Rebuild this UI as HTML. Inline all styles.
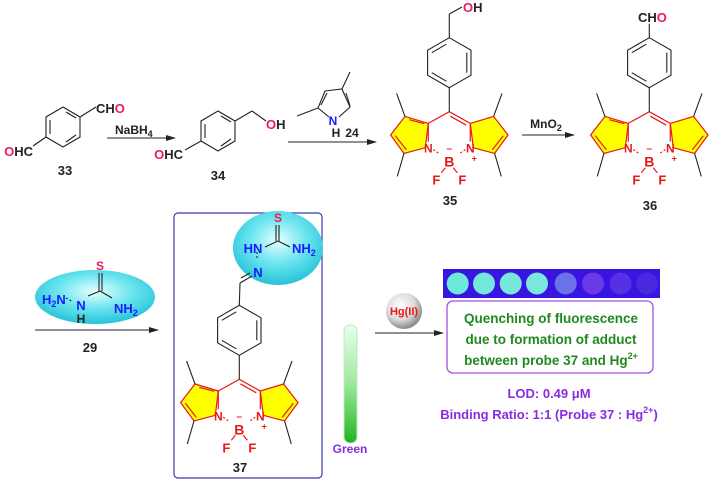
<!DOCTYPE html>
<html><head><meta charset="utf-8"><style>
html,body{margin:0;padding:0;background:#fff;width:711px;height:481px;overflow:hidden}
svg{display:block}
text{font-family:"Liberation Sans",sans-serif;font-weight:bold}
</style></head><body>
<svg width="711" height="481" viewBox="0 0 711 481" xmlns="http://www.w3.org/2000/svg">
<defs>
<radialGradient id="cy" cx="50%" cy="40%" r="60%"><stop offset="0" stop-color="#e8ffff"/><stop offset="0.5" stop-color="#6fe6f0"/><stop offset="1" stop-color="#25c3d8"/></radialGradient>
<radialGradient id="sp" cx="40%" cy="35%" r="65%"><stop offset="0" stop-color="#ffffff"/><stop offset="0.6" stop-color="#dcdcdc"/><stop offset="1" stop-color="#8a8a8a"/></radialGradient>
<linearGradient id="tube" x1="0" y1="0" x2="0" y2="1"><stop offset="0" stop-color="#e8fff0"/><stop offset="0.5" stop-color="#9ee89a"/><stop offset="1" stop-color="#1fb51f"/></linearGradient>
<marker id="ah" markerWidth="10" markerHeight="8" refX="9" refY="4" orient="auto" markerUnits="userSpaceOnUse"><path d="M0,1 L10,4 L0,7 Z" fill="#222"/></marker>
</defs>
<g stroke="#222" stroke-width="1.1" fill="none">
<!-- 33 -->
<polygon points="63,107 80,117 80,137 63,147 46,137 46,117"/>
<line x1="66" y1="112" x2="76" y2="118"/><line x1="76" y1="135" x2="66" y2="142"/><line x1="50" y1="120" x2="50" y2="134"/>
<line x1="80" y1="117" x2="96" y2="107"/><line x1="46" y1="137" x2="33" y2="146"/>
<!-- 34 -->
<polygon points="218,111 235,121 235,141 218,151 201,141 201,121"/>
<line x1="221" y1="116" x2="231" y2="122"/><line x1="231" y1="139" x2="221" y2="146"/><line x1="205" y1="124" x2="205" y2="138"/>
<line x1="235" y1="121" x2="252" y2="111"/><line x1="252" y1="111" x2="266" y2="121"/><line x1="201" y1="141" x2="185" y2="150"/>
<!-- pyrrole 24 -->
<polyline points="329,117 318,108 325,91 342,89 350,107 339,117"/>
<line x1="321" y1="105" x2="327" y2="93"/><line x1="346" y1="93" x2="350" y2="106"/>
<line x1="318" y1="108" x2="297" y2="116"/><line x1="342" y1="89" x2="350" y2="72"/>
<!-- arrows -->
<line x1="107" y1="138" x2="175" y2="138" marker-end="url(#ah)"/>
<line x1="288" y1="142" x2="376" y2="142" marker-end="url(#ah)"/>
<line x1="522" y1="135" x2="574" y2="135" marker-end="url(#ah)"/>
<line x1="35" y1="330" x2="158" y2="330" marker-end="url(#ah)"/>
<line x1="375" y1="333" x2="443" y2="333" marker-end="url(#ah)"/>
</g>
<text x="33" y="156" font-size="13" fill="#222" text-anchor="end"><tspan fill="#f0185a">O</tspan>HC</text>
<text x="96" y="113" font-size="13" fill="#222">CH<tspan fill="#f0185a">O</tspan></text>
<text x="65" y="175" font-size="13" fill="#222" text-anchor="middle">33</text>
<text x="115" y="134" font-size="12" fill="#222">NaBH<tspan font-size="9" dy="3">4</tspan></text>
<text x="183" y="159" font-size="13" fill="#222" text-anchor="end"><tspan fill="#f0185a">O</tspan>HC</text>
<text x="266" y="129" font-size="13" fill="#222"><tspan fill="#f0185a">O</tspan>H</text>
<text x="218" y="180" font-size="13" fill="#222" text-anchor="middle">34</text>
<text x="333" y="125" font-size="12" fill="#1a1aff" text-anchor="middle">N</text>
<text x="336" y="137" font-size="12" fill="#222" text-anchor="middle">H</text>
<text x="352" y="137" font-size="12" fill="#222" text-anchor="middle">24</text>
<text x="546" y="128" font-size="12" fill="#222" text-anchor="middle">MnO<tspan font-size="9" dy="3">2</tspan></text>

<!-- BODIPY 35 -->
<g transform="translate(449.3,111.7)">
<polygon points="-21,11.7 -44.3,4.7 -58.7,23.3 -45.3,41.7 -24,36" fill="#ffff00" stroke="#e81818" stroke-width="1.2"/>
<polygon points="21,11.7 44.3,4.7 58.7,23.3 45.3,41.7 24,36" fill="#ffff00" stroke="#e81818" stroke-width="1.2"/>
<g stroke="#e81818" stroke-width="1.2" fill="none">
<line x1="0" y1="0" x2="-21" y2="11.7"/><line x1="0" y1="0" x2="21" y2="11.7"/><line x1="1" y1="4.5" x2="17" y2="13.5"/>
<line x1="-40" y1="8" x2="-25" y2="12"/><line x1="-54" y1="24" x2="-43" y2="38"/><line x1="54" y1="24" x2="43" y2="38"/>
<line x1="-21" y1="11.7" x2="-21" y2="30"/><line x1="21" y1="11.7" x2="21" y2="30"/>
<line x1="-16" y1="38" x2="-10" y2="42" stroke-dasharray="2,2"/><line x1="16" y1="38" x2="10" y2="42" stroke-dasharray="2,2"/>
<line x1="-4" y1="56" x2="-8" y2="61"/><line x1="4" y1="56" x2="8" y2="61"/>
</g>
<g stroke="#222" stroke-width="1.1" fill="none">
<line x1="-44.3" y1="4.7" x2="-52.7" y2="-18.3"/><line x1="44.3" y1="4.7" x2="52.7" y2="-18.3"/>
<line x1="-45.3" y1="41.7" x2="-52" y2="64.7"/><line x1="45.3" y1="41.7" x2="52" y2="64.7"/>
<line x1="0" y1="0" x2="0" y2="-24"/>
<polygon points="0,-24 21.7,-36.5 21.7,-61.5 0,-74 -21.7,-61.5 -21.7,-36.5"/>
<line x1="17.5" y1="-39" x2="17.5" y2="-59"/><line x1="-17.5" y1="-39" x2="-3" y2="-30.5"/><line x1="-3" y1="-67.5" x2="-17.5" y2="-59"/>
</g>
<text x="-21" y="41" font-size="12" fill="#e81818" text-anchor="middle">N</text>
<text x="21" y="41" font-size="12" fill="#e81818" text-anchor="middle">N</text>
<text x="25" y="50" font-size="9" fill="#e81818" text-anchor="middle">+</text>
<text x="0" y="40" font-size="10" fill="#e81818" text-anchor="middle">–</text>
<text x="0" y="55" font-size="14" fill="#e81818" text-anchor="middle">B</text>
<text x="-13" y="73" font-size="13" fill="#e81818" text-anchor="middle">F</text>
<text x="13" y="73" font-size="13" fill="#e81818" text-anchor="middle">F</text>
</g>
<g stroke="#222" stroke-width="1.1" fill="none"><line x1="449.3" y1="37.7" x2="449.3" y2="14"/><line x1="449.3" y1="14" x2="462" y2="7"/></g>
<text x="463" y="12" font-size="13" fill="#222"><tspan fill="#f0185a">O</tspan>H</text>
<text x="450" y="205" font-size="13" fill="#222" text-anchor="middle">35</text>

<!-- BODIPY 36 -->
<g transform="translate(649.3,111.7)">
<polygon points="-21,11.7 -44.3,4.7 -58.7,23.3 -45.3,41.7 -24,36" fill="#ffff00" stroke="#e81818" stroke-width="1.2"/>
<polygon points="21,11.7 44.3,4.7 58.7,23.3 45.3,41.7 24,36" fill="#ffff00" stroke="#e81818" stroke-width="1.2"/>
<g stroke="#e81818" stroke-width="1.2" fill="none">
<line x1="0" y1="0" x2="-21" y2="11.7"/><line x1="0" y1="0" x2="21" y2="11.7"/><line x1="1" y1="4.5" x2="17" y2="13.5"/>
<line x1="-40" y1="8" x2="-25" y2="12"/><line x1="-54" y1="24" x2="-43" y2="38"/><line x1="54" y1="24" x2="43" y2="38"/>
<line x1="-21" y1="11.7" x2="-21" y2="30"/><line x1="21" y1="11.7" x2="21" y2="30"/>
<line x1="-16" y1="38" x2="-10" y2="42" stroke-dasharray="2,2"/><line x1="16" y1="38" x2="10" y2="42" stroke-dasharray="2,2"/>
<line x1="-4" y1="56" x2="-8" y2="61"/><line x1="4" y1="56" x2="8" y2="61"/>
</g>
<g stroke="#222" stroke-width="1.1" fill="none">
<line x1="-44.3" y1="4.7" x2="-52.7" y2="-18.3"/><line x1="44.3" y1="4.7" x2="52.7" y2="-18.3"/>
<line x1="-45.3" y1="41.7" x2="-52" y2="64.7"/><line x1="45.3" y1="41.7" x2="52" y2="64.7"/>
<line x1="0" y1="0" x2="0" y2="-24"/>
<polygon points="0,-24 21.7,-36.5 21.7,-61.5 0,-74 -21.7,-61.5 -21.7,-36.5"/>
<line x1="17.5" y1="-39" x2="17.5" y2="-59"/><line x1="-17.5" y1="-39" x2="-3" y2="-30.5"/><line x1="-3" y1="-67.5" x2="-17.5" y2="-59"/>
<line x1="0" y1="-74" x2="0" y2="-88"/>
</g>
<text x="-21" y="41" font-size="12" fill="#e81818" text-anchor="middle">N</text>
<text x="21" y="41" font-size="12" fill="#e81818" text-anchor="middle">N</text>
<text x="25" y="50" font-size="9" fill="#e81818" text-anchor="middle">+</text>
<text x="0" y="40" font-size="10" fill="#e81818" text-anchor="middle">–</text>
<text x="0" y="55" font-size="14" fill="#e81818" text-anchor="middle">B</text>
<text x="-13" y="73" font-size="13" fill="#e81818" text-anchor="middle">F</text>
<text x="13" y="73" font-size="13" fill="#e81818" text-anchor="middle">F</text>
</g>
<text x="638" y="22" font-size="13" fill="#222">CH<tspan fill="#f0185a">O</tspan></text>
<text x="650" y="210" font-size="13" fill="#222" text-anchor="middle">36</text>

<!-- 29 -->
<ellipse cx="95" cy="297" rx="60" ry="27" fill="url(#cy)"/>
<g stroke="#222" stroke-width="1.1"><line x1="99" y1="291" x2="99" y2="273"/><line x1="102" y1="291" x2="102" y2="273"/><line x1="100" y1="291" x2="112" y2="298"/><line x1="88" y1="296" x2="100" y2="291"/><line x1="66" y1="298" x2="73" y2="302" stroke-dasharray="2,2"/></g>
<text x="100" y="270" font-size="12" fill="#f0185a" text-anchor="middle">S</text>
<text x="42" y="304" font-size="13" fill="#1a1aff">H<tspan font-size="9" dy="3">2</tspan><tspan dy="-3">N</tspan></text>
<text x="81" y="310" font-size="13" fill="#1a1aff" text-anchor="middle">N</text>
<text x="81" y="323" font-size="12" fill="#222" text-anchor="middle">H</text>
<text x="114" y="313" font-size="13" fill="#1a1aff">NH<tspan font-size="9" dy="3">2</tspan></text>
<text x="90" y="352" font-size="13" fill="#222" text-anchor="middle">29</text>

<!-- box 37 -->
<rect x="174" y="213" width="148" height="265" rx="4" fill="none" stroke="#3b3bb0" stroke-width="1.2"/>
<ellipse cx="278" cy="248" rx="45" ry="37" fill="url(#cy)"/>
<g stroke="#222" stroke-width="1.1"><line x1="276" y1="241" x2="276" y2="225"/><line x1="279" y1="241" x2="279" y2="225"/><line x1="278" y1="241" x2="265" y2="247"/><line x1="278" y1="241" x2="290" y2="247"/><line x1="257" y1="252" x2="257" y2="260" stroke-dasharray="2,2"/><line x1="252" y1="276" x2="240" y2="283"/><line x1="250" y1="273" x2="241" y2="278"/><line x1="240" y1="283" x2="239.3" y2="305"/></g>
<text x="278" y="222" font-size="12" fill="#f0185a" text-anchor="middle">S</text>
<text x="253" y="253" font-size="13" fill="#1a1aff" text-anchor="middle">HN</text>
<text x="292" y="253" font-size="13" fill="#1a1aff">NH<tspan font-size="9" dy="3">2</tspan></text>
<text x="258" y="277" font-size="13" fill="#1a1aff" text-anchor="middle">N</text>

<g transform="translate(239.3,379.3)">
<polygon points="-21,11.7 -44.3,4.7 -58.7,23.3 -45.3,41.7 -24,36" fill="#ffff00" stroke="#e81818" stroke-width="1.2"/>
<polygon points="21,11.7 44.3,4.7 58.7,23.3 45.3,41.7 24,36" fill="#ffff00" stroke="#e81818" stroke-width="1.2"/>
<g stroke="#e81818" stroke-width="1.2" fill="none">
<line x1="0" y1="0" x2="-21" y2="11.7"/><line x1="0" y1="0" x2="21" y2="11.7"/><line x1="1" y1="4.5" x2="17" y2="13.5"/>
<line x1="-40" y1="8" x2="-25" y2="12"/><line x1="-54" y1="24" x2="-43" y2="38"/><line x1="54" y1="24" x2="43" y2="38"/>
<line x1="-21" y1="11.7" x2="-21" y2="30"/><line x1="21" y1="11.7" x2="21" y2="30"/>
<line x1="-16" y1="38" x2="-10" y2="42" stroke-dasharray="2,2"/><line x1="16" y1="38" x2="10" y2="42" stroke-dasharray="2,2"/>
<line x1="-4" y1="56" x2="-8" y2="61"/><line x1="4" y1="56" x2="8" y2="61"/>
</g>
<g stroke="#222" stroke-width="1.1" fill="none">
<line x1="-44.3" y1="4.7" x2="-52.7" y2="-18.3"/><line x1="44.3" y1="4.7" x2="52.7" y2="-18.3"/>
<line x1="-45.3" y1="41.7" x2="-52" y2="64.7"/><line x1="45.3" y1="41.7" x2="52" y2="64.7"/>
<line x1="0" y1="0" x2="0" y2="-24"/>
<polygon points="0,-24 21.7,-36.5 21.7,-61.5 0,-74 -21.7,-61.5 -21.7,-36.5"/>
<line x1="17.5" y1="-39" x2="17.5" y2="-59"/><line x1="-17.5" y1="-39" x2="-3" y2="-30.5"/><line x1="-3" y1="-67.5" x2="-17.5" y2="-59"/>
</g>
<text x="-21" y="41" font-size="12" fill="#e81818" text-anchor="middle">N</text>
<text x="21" y="41" font-size="12" fill="#e81818" text-anchor="middle">N</text>
<text x="25" y="50" font-size="9" fill="#e81818" text-anchor="middle">+</text>
<text x="0" y="40" font-size="10" fill="#e81818" text-anchor="middle">–</text>
<text x="0" y="55" font-size="14" fill="#e81818" text-anchor="middle">B</text>
<text x="-13" y="73" font-size="13" fill="#e81818" text-anchor="middle">F</text>
<text x="13" y="73" font-size="13" fill="#e81818" text-anchor="middle">F</text>
</g>
<text x="240" y="472" font-size="13" fill="#222" text-anchor="middle">37</text>

<!-- tube -->
<rect x="344" y="325" width="13" height="118" rx="6" fill="url(#tube)" stroke="#b8e8c8" stroke-width="1"/>
<text x="350" y="453" font-size="12" fill="#8a2be2" text-anchor="middle">Green</text>

<!-- Hg sphere -->
<circle cx="404" cy="311" r="18" fill="url(#sp)"/>
<text x="404" y="315" font-size="11" fill="#e81818" text-anchor="middle">Hg(II)</text>

<!-- strip -->
<rect x="443" y="269" width="217" height="29" fill="#3a14e0"/>
<g>
<circle cx="457.7" cy="283.5" r="11" fill="#6fe8dc"/>
<circle cx="484" cy="283.5" r="11" fill="#74e6dc"/>
<circle cx="510.7" cy="283.5" r="11" fill="#78e8dc"/>
<circle cx="537" cy="283.5" r="11" fill="#7ae8dc"/>
<circle cx="565.7" cy="283.5" r="11" fill="#6a72e8"/>
<circle cx="593" cy="283.5" r="11" fill="#6a3ae8"/>
<circle cx="620.7" cy="283.5" r="11" fill="#5530e4"/>
<circle cx="647" cy="283.5" r="11" fill="#4a28e0"/>
</g>
<rect x="447" y="301" width="206" height="72" rx="6" fill="#fff" stroke="#a64de8" stroke-width="1.3"/>
<g font-size="13.5" fill="#1e8a1e" text-anchor="middle">
<text x="551" y="323">Quenching of fluorescence</text>
<text x="551" y="344">due to formation of adduct</text>
<text x="551" y="365">between probe 37 and Hg<tspan font-size="9" dy="-6">2+</tspan></text>
</g>
<g font-size="13" fill="#8a2be2" text-anchor="middle">
<text x="549" y="398">LOD: 0.49 μM</text>
<text x="549" y="419">Binding Ratio: 1:1 (Probe 37 : Hg<tspan font-size="9" dy="-6">2+</tspan><tspan dy="6">)</tspan></text>
</g>
</svg>
</body></html>
